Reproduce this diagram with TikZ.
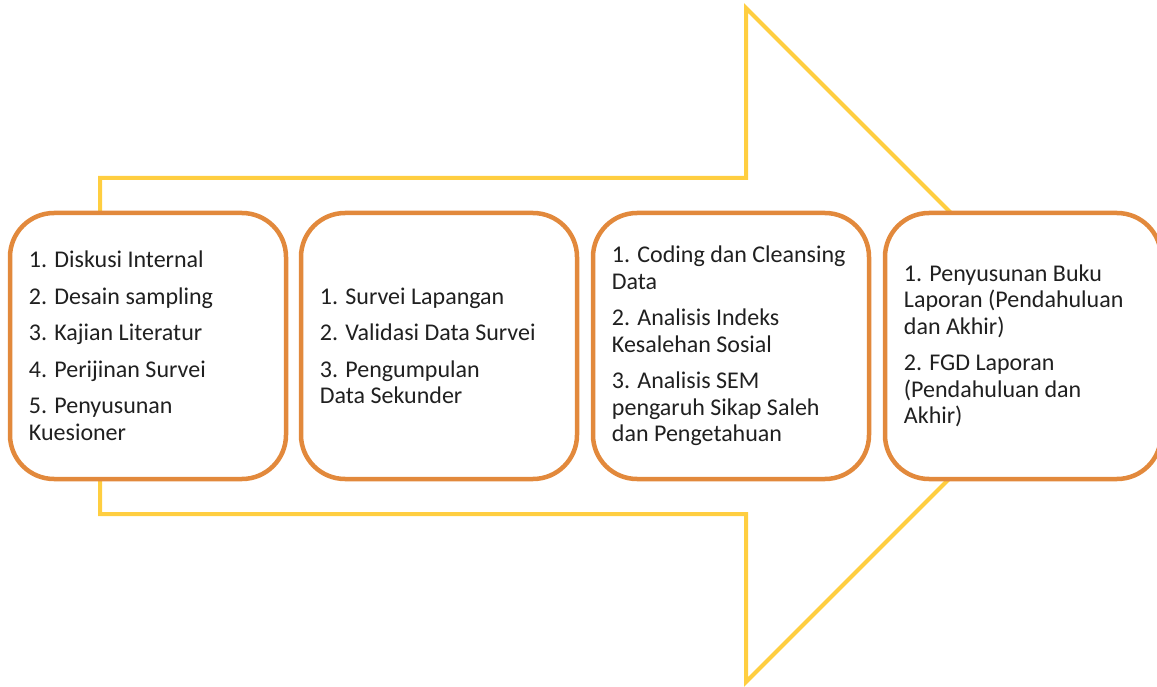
\documentclass[tikz,border=0pt]{standalone}
\usepackage{fontspec}
\setmainfont{Carlito}
\definecolor{arrowgold}{RGB}{255,206,64}
\definecolor{boxorange}{RGB}{226,137,60}
\definecolor{ink}{RGB}{32,32,32}
\tikzset{
  stage/.style={draw=boxorange, line width=4.5pt, fill=white, rounded corners=44pt,
    minimum width=276pt, minimum height=266pt, inner sep=0pt},
  steps/.style={anchor=west, align=left, inner sep=0pt, text=ink,
    font=\fontsize{24}{26.5}\selectfont},
}
% extra space between two list items
\newcommand{\itemgap}{\\[10pt]}
\begin{document}
\begin{tikzpicture}[x=1pt,y=-1pt]
  \useasboundingbox (0,0) rectangle (1157,687);
  % large outlined arrow behind the stages
  \draw[arrowgold, line width=4pt]
    (100,178) -- (746,178) -- (746,8) -- (1083,345) -- (746,682)
    -- (746,514) -- (100,514) -- cycle;
  % the four stages
  \node[stage] (s1) at (148,346) {};
  \node[stage] (s2) at (439,346) {};
  \node[stage] (s3) at (731,346) {};
  \node[stage] (s4) at (1023,346) {};
  \node[steps] (t1) at ([xshift=21pt]s1.west)
    {1. Diskusi Internal\itemgap 2. Desain sampling\itemgap 3. Kajian Literatur\itemgap
     4. Perijinan Survei\itemgap 5. Penyusunan\\Kuesioner};
  \node[steps] (t2) at ([xshift=21pt]s2.west)
    {1. Survei Lapangan\itemgap 2. Validasi Data Survei\itemgap 3. Pengumpulan\\Data Sekunder};
  \node[steps] (t3) at ([xshift=21pt]s3.west)
    {1. Coding dan Cleansing\\Data\itemgap 2. Analisis Indeks\\Kesalehan Sosial\itemgap
     3. Analisis SEM\\pengaruh Sikap Saleh\\dan Pengetahuan};
  \node[steps] (t4) at ([xshift=21pt]s4.west)
    {1. Penyusunan Buku\\Laporan (Pendahuluan\\dan Akhir)\itemgap 2. FGD Laporan\\(Pendahuluan dan\\Akhir)};
\end{tikzpicture}
\end{document}
